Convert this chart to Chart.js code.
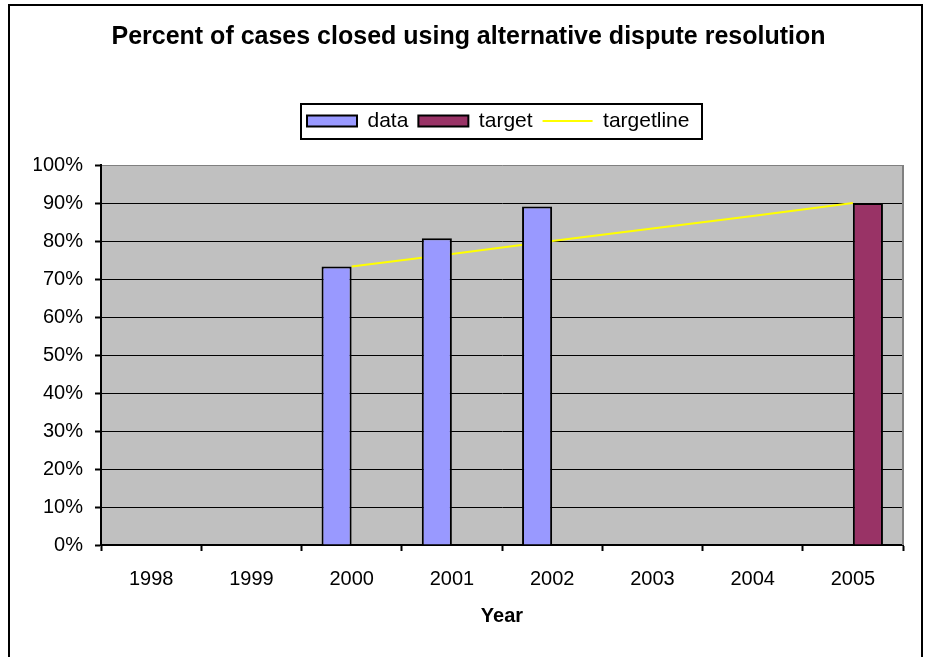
<!DOCTYPE html>
<html>
<head>
<meta charset="utf-8">
<title>Percent of cases closed using alternative dispute resolution</title>
<script src="https://cdn.jsdelivr.net/npm/chart.js@4.4.1/dist/chart.umd.min.js"></script>
<style>
  html, body { margin: 0; padding: 0; background: #ffffff; }
  #wrap { width: 927px; height: 657px; }
</style>
</head>
<body>
<div id="wrap"><canvas id="chart" width="927" height="657"></canvas></div>
<script>
// Fiscal years shown on the category axis
const years = ['1998', '1999', '2000', '2001', '2002', '2003', '2004', '2005'];

// Share of cases closed through alternative dispute resolution (%)
const closedPct = [null, null, 73.3, 80.7, 89.1, null, null, null];

// Goal for the final year (%)
const targetPct = [null, null, null, null, null, null, null, 90];

// Straight glide path from the 2000 result to the 2005 goal (%)
const targetLinePct = [null, null, 73.3, 76.6, 80.0, 83.3, 86.6, 90];

// Value axis ticks (%)
const yTickValues = [0, 10, 20, 30, 40, 50, 60, 70, 80, 90, 100];

const FONT = '"Liberation Sans", Arial, Helvetica, sans-serif';
const LEGEND_LEFT = 307;

const chartDecor = {
  id: 'chartDecor',
  beforeDraw(chart) {
    const { ctx, chartArea: a } = chart;
    ctx.save();
    ctx.fillStyle = '#ffffff';
    ctx.fillRect(0, 0, chart.width, chart.height);
    ctx.fillStyle = '#C0C0C0';
    ctx.fillRect(a.left, a.top, a.right - a.left, a.bottom - a.top);
    ctx.restore();
  },
  afterLayout(chart) {
    // move the legend row so it starts at LEGEND_LEFT
    const lg = chart.legend;
    if (!lg || !lg.lineWidths) return;
    const pad = lg.options.labels.padding;
    const start = (lg.left + pad + lg.right - lg.lineWidths[0]) / 2;
    const dx = LEGEND_LEFT - start;
    lg.left += dx;
    lg.right += dx;
  },
  beforeDatasetsDraw(chart) {
    // grey right edge of the plot area
    const { ctx, chartArea: a } = chart;
    ctx.save();
    ctx.strokeStyle = '#808080';
    ctx.lineWidth = 2;
    ctx.beginPath();
    ctx.moveTo(a.right, a.top);
    ctx.lineTo(a.right, a.bottom);
    ctx.stroke();
    ctx.restore();
  },
  afterDraw(chart) {
    const { ctx } = chart;
    const lg = chart.legend;
    ctx.save();
    ctx.strokeStyle = '#000000';
    ctx.lineWidth = 2;
    if (lg && lg.legendHitBoxes && lg.legendHitBoxes.length) {
      const hb = lg.legendHitBoxes;
      const left = Math.min(...hb.map(h => h.left)) - 6;
      const right = Math.max(...hb.map(h => h.left + h.width)) + 13;
      const pad = lg.options.labels.padding;
      const cy = lg.top + pad + hb[0].height / 2;
      ctx.strokeRect(Math.round(left), Math.round(cy - 17), Math.round(right - left), 35);
    }
    // outer chart frame
    ctx.strokeRect(9, 5, 913, 700);
    ctx.restore();
  }
};

new Chart(document.getElementById('chart'), {
  data: {
    labels: years,
    datasets: [
      {
        type: 'bar',
        label: 'data',
        data: closedPct,
        backgroundColor: '#9999FF',
        borderColor: '#000000',
        borderWidth: 2,
        categoryPercentage: 0.6,
        barPercentage: 1.0
      },
      {
        type: 'bar',
        label: 'target',
        data: targetPct,
        backgroundColor: '#993366',
        borderColor: '#000000',
        borderWidth: 2,
        categoryPercentage: 0.6,
        barPercentage: 1.0
      },
      {
        type: 'line',
        label: 'targetline',
        data: targetLinePct,
        borderColor: '#FFFF00',
        backgroundColor: '#FFFF00',
        borderWidth: 2,
        pointRadius: 0,
        pointHoverRadius: 0,
        tension: 0,
        fill: false
      }
    ]
  },
  options: {
    responsive: false,
    maintainAspectRatio: false,
    devicePixelRatio: 1,
    animation: false,
    events: [],
    layout: { padding: { top: 0, left: 34, right: 24, bottom: 0 } },
    plugins: {
      title: {
        display: true,
        text: 'Percent of cases closed using alternative dispute resolution',
        color: '#000000',
        font: { family: FONT, size: 25, weight: 'bold', lineHeight: 1.2 },
        padding: { top: 22, bottom: 48.5 }
      },
      subtitle: {
        display: true,
        text: '',
        weight: 500,
        font: { family: FONT, size: 1, lineHeight: 1 },
        padding: { top: 0, bottom: 22.5 }
      },
      legend: {
        display: true,
        position: 'top',
        labels: {
          color: '#000000',
          font: { family: FONT, size: 21 },
          padding: 10,
          usePointStyle: true,
          pointStyleWidth: 50,
          boxHeight: 11,
          generateLabels(chart) {
            const items = Chart.defaults.plugins.legend.labels.generateLabels(chart);
            items.forEach(it => {
              const ds = chart.data.datasets[it.datasetIndex];
              if (ds.type === 'line') {
                it.pointStyle = 'line';
                it.strokeStyle = ds.borderColor;
                it.fillStyle = ds.borderColor;
                it.lineWidth = 2;
              } else {
                it.pointStyle = 'rect';
                it.fillStyle = ds.backgroundColor;
                it.strokeStyle = '#000000';
                it.lineWidth = 2;
              }
            });
            return items;
          }
        }
      },
      tooltip: { enabled: false }
    },
    scales: {
      x: {
        type: 'category',
        offset: true,
        grid: {
          display: true,
          drawOnChartArea: false,
          drawTicks: true,
          tickLength: 6,
          tickWidth: 2,
          tickColor: '#000000',
          offset: true
        },
        border: { display: true, color: '#000000', width: 2 },
        ticks: {
          color: '#000000',
          font: { family: FONT, size: 20 },
          padding: 16,
          maxRotation: 0,
          autoSkip: false
        },
        title: {
          display: true,
          text: 'Year',
          color: '#000000',
          font: { family: FONT, size: 20, weight: 'bold', lineHeight: 1.2 },
          padding: { top: 4, bottom: 29 }
        },
        afterFit(scale) { scale.height = 112; }
      },
      y: {
        type: 'linear',
        min: 0,
        max: 100,
        afterBuildTicks(scale) {
          scale.ticks = yTickValues.map(v => ({ value: v }));
        },
        grid: {
          color: ctx => (ctx.tick && ctx.tick.value === 100 ? '#808080' : '#000000'),
          lineWidth: 1,
          drawTicks: true,
          tickLength: 6,
          tickColor: '#000000',
          tickWidth: 2
        },
        border: { display: true, color: '#000000', width: 2 },
        ticks: {
          color: '#000000',
          font: { family: FONT, size: 20 },
          padding: 12,
          callback: v => v + '%'
        },
        afterFit(scale) { scale.width = 67; }
      }
    }
  },
  plugins: [chartDecor]
});
</script>
</body>
</html>
